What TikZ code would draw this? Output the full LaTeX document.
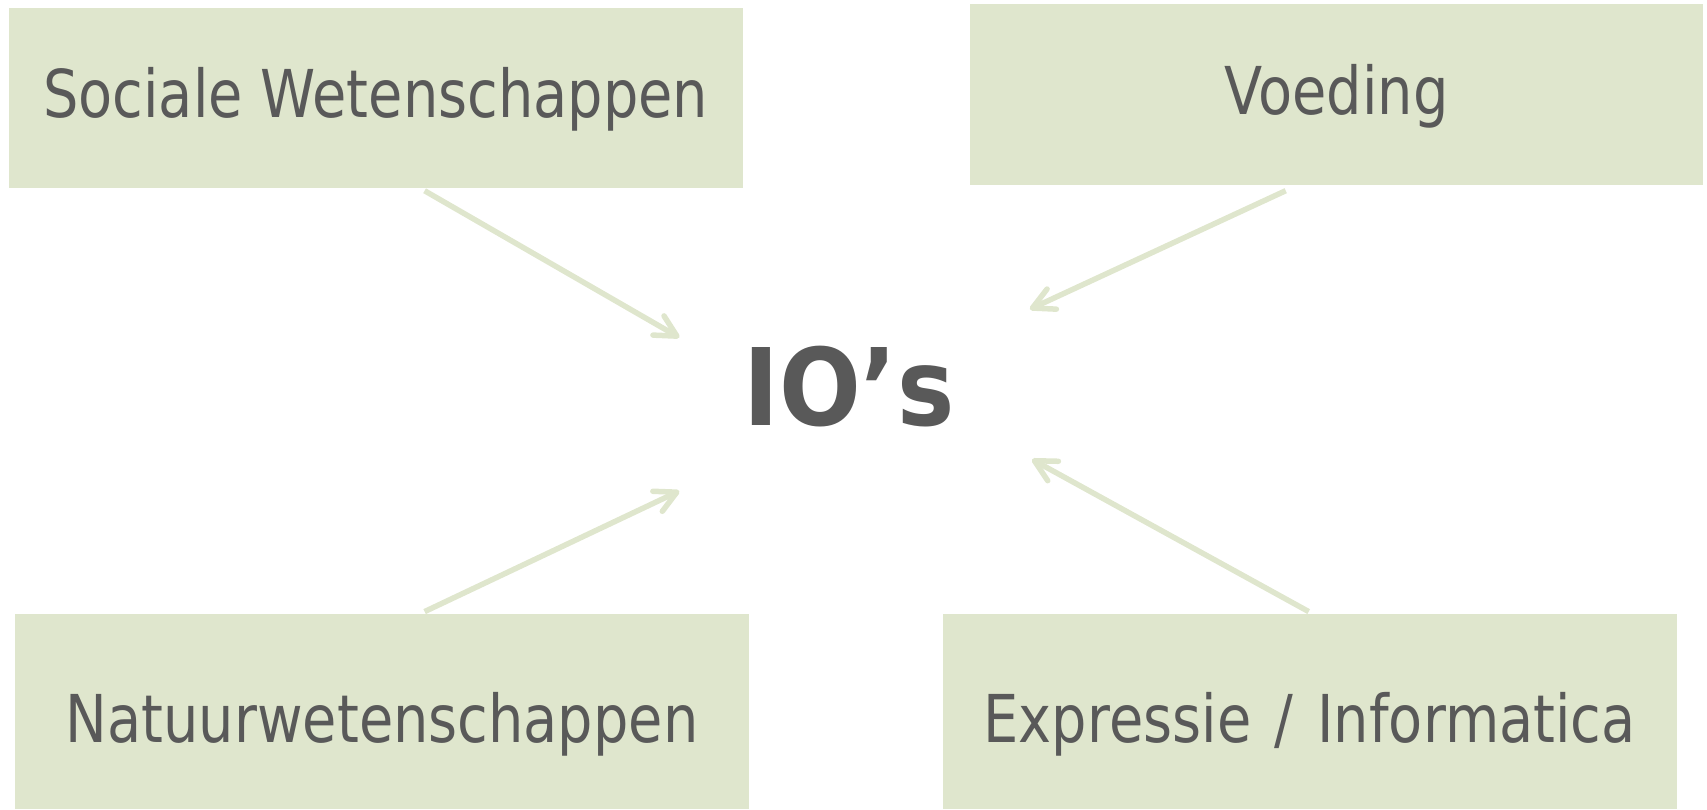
\documentclass[tikz,border=0pt]{standalone}
\usepackage{fontspec}
\setmainfont{DejaVu Sans}
\newfontfamily\boxfont[FakeStretch=0.845]{DejaVu Sans}
\newfontfamily\iofont[FakeStretch=0.9]{DejaVu Sans}
\usetikzlibrary{arrows.meta,calc}
\definecolor{boxgreen}{HTML}{DFE6CD}
\definecolor{txtgray}{HTML}{595959}
\begin{document}
\begin{tikzpicture}[x=1pt,y=-1pt,
  box/.style={fill=boxgreen, draw=none, rectangle, inner sep=0pt},
  lbl/.style={text=txtgray, font=\boxfont\fontsize{66}{70}\selectfont, anchor=base, inner sep=0pt},
  conn/.style={draw=boxgreen, line width=5.5pt, -{Straight Barb[angle=55:24pt, round]}}]
\useasboundingbox (0,0) rectangle (1707,809);
\node[box, minimum width=733.8pt, minimum height=180.7pt] (sw) at (375.6,98) {};
\node[box, minimum width=732.7pt, minimum height=180.7pt] (vo) at (1336.4,94.75) {};
\node[box, minimum width=733.8pt, minimum height=195pt] (na) at (382.1,711.5) {};
\node[box, minimum width=733.8pt, minimum height=195pt] (ex) at (1309.7,711.5) {};
\node[lbl] (swt) at (375.6,117.5) {Sociale Wetenschappen};
\node[lbl] (vot) at (1336.4,114) {Voeding};
\node[lbl] (nat) at (382.1,742) {Natuurwetenschappen};
\node[lbl] (ext) at (1309.7,742) {Expressie\hspace{6pt} / \hspace{6pt}Informatica};
\node[text=txtgray, font=\iofont\bfseries\fontsize{107}{112}\selectfont, anchor=base, inner sep=0pt] (io) at (849,425) {IO’s};
\coordinate (a1) at (679.3,337.5);
\coordinate (a2) at (1029.9,309.2);
\coordinate (a3) at (679.3,491);
\coordinate (a4) at (1032,459.4);
\draw[conn] ($(sw.south)+(49,2.2)$) -- (a1);
\draw[conn] ($(vo.south)+(-50.7,5.4)$) -- (a2);
\draw[conn] ($(na.north)+(42.5,-2.2)$) -- (a3);
\draw[conn] ($(ex.north)+(-1,-2.2)$) -- (a4);
\end{tikzpicture}
\end{document}
